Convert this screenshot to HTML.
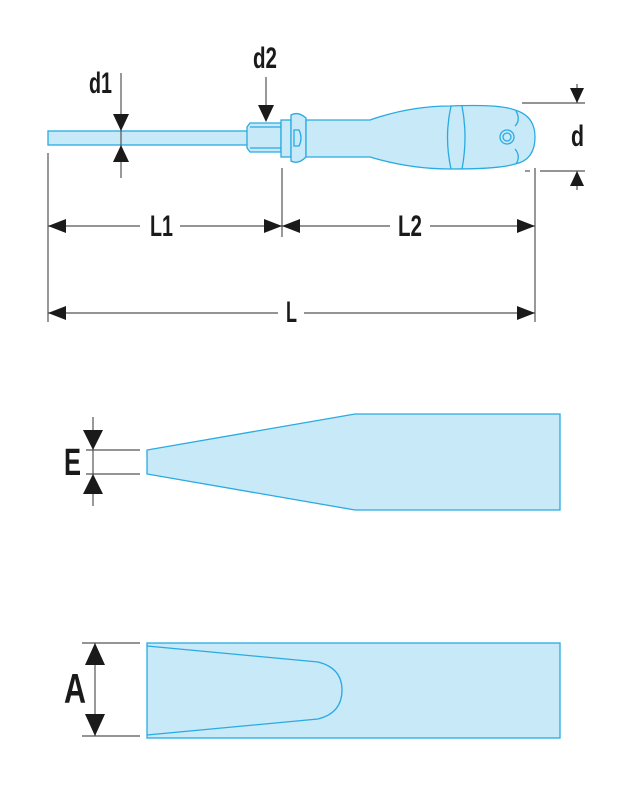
<!DOCTYPE html>
<html><head><meta charset="utf-8"><style>
html,body{margin:0;padding:0;background:#fff;}
svg{display:block;}
text{font-family:"Liberation Sans",sans-serif;font-weight:bold;fill:#1a1a1a;}
</style></head><body>
<svg width="627" height="791" viewBox="0 0 627 791" xmlns="http://www.w3.org/2000/svg">
<g fill="#c7e9f8" stroke="#29abe2" stroke-width="1.3">
  <rect x="48" y="131" width="202" height="14"/>
  <path d="M250 123 L281 123 L281 152 L250 152 L247 148 L247 127 Z"/>
  <line x1="250" y1="127" x2="281" y2="127"/><line x1="250" y1="148" x2="281" y2="148"/>
  <rect x="281" y="120" width="10" height="37"/>
  <path d="M291 115 Q298 111 306 118 L306 157 Q298 165 291 161 Z"/>
  <path d="M294 130 L299 130 Q303 138 299 146 L294 146 Z"/>
  <path d="M306 120 L370 120 Q410 106 450 106 Q500 104 515 110 Q535 116 535 137 Q535 160 515 164 Q500 169 450 169 Q410 169 370 157 L306 157 Z"/>
  <path d="M451 106 Q444 137 451 169 M462 106 Q468 137 462 169" fill="none"/>
  <path d="M516 111 Q521 120 515 126 M515 149 Q521 156 516 164" fill="none"/>
  <circle cx="507" cy="137" r="7"/><circle cx="507" cy="137" r="4"/>
</g>
<g fill="#c7e9f8" stroke="#29abe2" stroke-width="1.3">
  <path d="M560 414 L355 414 L147 450 L147 474 L355 510 L560 510 Z"/>
  <rect x="147" y="643" width="413" height="95"/>
  <path d="M147 646 L318 662 Q342 668 342 690 Q342 713 318 719 L147 735" fill="none"/>
</g>
<g stroke="#555" stroke-width="1.2" fill="none">
  <line x1="48" y1="153" x2="48" y2="322"/>
  <line x1="282" y1="168" x2="282" y2="237"/>
  <line x1="535" y1="168" x2="535" y2="322"/>
  <line x1="121" y1="73" x2="121" y2="178"/>
  <line x1="266" y1="77" x2="266" y2="120"/>
  <line x1="522" y1="103" x2="585" y2="103"/>
  <line x1="540" y1="171" x2="585" y2="171"/>
  <line x1="525" y1="171" x2="530" y2="171"/>
  <line x1="577" y1="84" x2="577" y2="103"/><line x1="577" y1="171" x2="577" y2="190"/>
  <line x1="48" y1="226" x2="140" y2="226"/><line x1="180" y1="226" x2="282" y2="226"/>
  <line x1="282" y1="226" x2="390" y2="226"/><line x1="430" y1="226" x2="535" y2="226"/>
  <line x1="48" y1="313" x2="278" y2="313"/><line x1="304" y1="313" x2="535" y2="313"/>
  <line x1="86" y1="450" x2="140" y2="450"/><line x1="86" y1="474" x2="140" y2="474"/>
  <line x1="93" y1="417" x2="93" y2="506"/>
  <line x1="82" y1="643" x2="140" y2="643"/><line x1="82" y1="736" x2="140" y2="736"/>
  <line x1="95" y1="643" x2="95" y2="736"/>
</g>
<g fill="#1a1a1a">
  <path d="M121 131 L113 114 L129 114 Z"/><path d="M121 145 L113 162 L129 162 Z"/>
  <path d="M266 122 L258 105 L274 105 Z"/>
  <path d="M577 103 L570 88 L584 88 Z"/><path d="M577 171 L570 186 L584 186 Z"/>
  <path d="M48 226 L66 219 L66 233 Z"/><path d="M282 226 L264 219 L264 233 Z"/>
  <path d="M282 226 L300 219 L300 233 Z"/><path d="M535 226 L517 219 L517 233 Z"/>
  <path d="M48 313 L66 306 L66 320 Z"/><path d="M535 313 L517 306 L517 320 Z"/>
  <path d="M93 450 L83 430 L103 430 Z"/><path d="M93 474 L83 494 L103 494 Z"/>
  <path d="M95 643 L85 665 L105 665 Z"/><path d="M95 736 L85 714 L105 714 Z"/>
</g>
<text x="89" y="93" font-size="30" textLength="23" lengthAdjust="spacingAndGlyphs">d1</text>
<text x="253" y="68" font-size="30" textLength="24" lengthAdjust="spacingAndGlyphs">d2</text>
<text x="571" y="146" font-size="30" textLength="13" lengthAdjust="spacingAndGlyphs">d</text>
<text x="150" y="236" font-size="30" textLength="23" lengthAdjust="spacingAndGlyphs">L1</text>
<text x="398" y="236" font-size="30" textLength="24" lengthAdjust="spacingAndGlyphs">L2</text>
<text x="286" y="322" font-size="30" textLength="11" lengthAdjust="spacingAndGlyphs">L</text>
<text x="64" y="475" font-size="38" textLength="17" lengthAdjust="spacingAndGlyphs">E</text>
<text x="64" y="703" font-size="42" textLength="22" lengthAdjust="spacingAndGlyphs">A</text>
</svg>
</body></html>
